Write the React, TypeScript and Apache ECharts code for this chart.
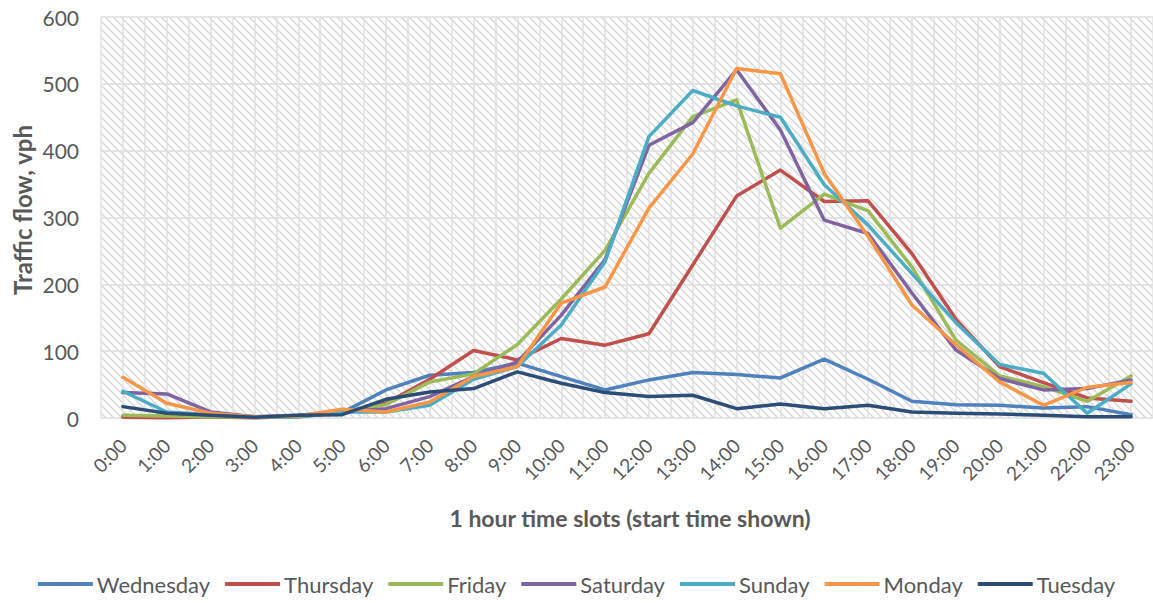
import React, { useEffect, useRef } from "react";
import * as echarts from "echarts";

const hours = [
  "0:00", "1:00", "2:00", "3:00", "4:00", "5:00", "6:00", "7:00", "8:00", "9:00", "10:00", "11:00",
  "12:00", "13:00", "14:00", "15:00", "16:00", "17:00", "18:00", "19:00", "20:00", "21:00", "22:00", "23:00",
];
const seriesNames = ["Wednesday", "Thursday", "Friday", "Saturday", "Sunday", "Monday", "Tuesday"];
const seriesColors = ["#4F81BD", "#C0504D", "#9BBB59", "#8064A2", "#4BACC6", "#F79646", "#2C4D75"];

const wednesday = [3, 2, 2, 1, 2, 8, 42, 64, 68, 82, 62, 42, 57, 68, 65, 60, 88, 58, 25, 20, 19, 15, 17, 5];
const thursday = [1, 0, 2, 0, 3, 8, 22, 58, 101, 87, 119, 109, 126, 229, 332, 371, 324, 325, 246, 148, 77, 53, 30, 25];
const friday = [4, 3, 2, 1, 2, 9, 20, 54, 66, 110, 178, 251, 366, 451, 476, 284, 335, 310, 226, 117, 63, 47, 25, 63];
const saturday = [38, 36, 9, 2, 4, 9, 14, 32, 62, 84, 154, 237, 408, 442, 521, 431, 296, 276, 187, 102, 59, 42, 44, 57];
const sunday = [40, 9, 5, 2, 2, 9, 9, 19, 58, 77, 139, 234, 421, 490, 467, 450, 349, 289, 216, 143, 80, 67, 7, 51];
const monday = [61, 22, 7, 2, 3, 13, 9, 24, 62, 77, 172, 196, 314, 395, 523, 515, 366, 272, 169, 110, 54, 19, 46, 53];
const tuesday = [17, 7, 4, 1, 4, 5, 28, 39, 44, 69, 52, 38, 32, 34, 14, 21, 14, 19, 9, 7, 6, 4, 2, 2];

const seriesValues = [wednesday, thursday, friday, saturday, sunday, monday, tuesday];

const yTicks = { min: 0, max: 600, interval: 100 };

const FONT = "Lato, 'Open Sans', sans-serif";
const TEXT_COLOR = "#595959";

export default function App() {
  const ref = useRef<HTMLDivElement>(null);

  useEffect(() => {
    if (!ref.current) return;
    const chart = echarts.init(ref.current, null, { renderer: "svg" });

    const hatchSvg =
      "<svg xmlns='http://www.w3.org/2000/svg' width='8' height='8'>" +
      "<path d='M-1,-1 L9,9 M7,-1 L9,1 M-1,7 L1,9' stroke='#d9d9d9' stroke-width='1.5'/></svg>";
    const hatchUrl = "data:image/svg+xml;charset=utf-8," + encodeURIComponent(hatchSvg);

    const option: any = {
      animation: false,
      textStyle: { fontFamily: FONT },
      grid: {
        left: 101,
        top: 17,
        right: -8,
        bottom: 185,
        show: true,
        borderWidth: 0,
        backgroundColor: {
          image: hatchUrl,
          repeat: "repeat",
          imageWidth: 8,
          imageHeight: 8,
        },
      },
      legend: {
        data: seriesNames,
        top: 568,
        left: "center",
        icon: "rect",
        itemWidth: 55,
        itemHeight: 4,
        itemGap: 15,
        textStyle: { fontSize: 22, color: TEXT_COLOR, fontFamily: FONT, padding: [0, 0, 0, -1] },
      },
      xAxis: [
        {
          type: "category",
          data: hours,
          boundaryGap: true,
          axisLine: { show: false },
          axisTick: { show: false },
          splitLine: { show: false },
          axisLabel: {
            rotate: 45,
            fontSize: 19,
            color: TEXT_COLOR,
            margin: 24,
            interval: 0,
            fontFamily: FONT,
          },
        },
        {
          type: "value",
          min: -0.5,
          max: 23.5,
          interval: 0.5,
          position: "top",
          axisLine: { show: false },
          axisTick: { show: false },
          axisLabel: { show: false },
          splitLine: { show: true, lineStyle: { color: "#e2e2e2", width: 1.5 } },
        },
      ],
      yAxis: {
        type: "value",
        min: yTicks.min,
        max: yTicks.max,
        interval: yTicks.interval,
        axisLine: { show: false },
        axisTick: { show: false },
        axisLabel: { fontSize: 21, color: TEXT_COLOR, margin: 22, fontFamily: FONT },
        splitLine: { show: true, lineStyle: { color: "#dedede", width: 1.5 } },
      },
      graphic: [
        {
          type: "text",
          x: 22,
          y: 210,
          rotation: Math.PI / 2,
          style: {
            text: "Traffic flow, vph",
            fontSize: 24,
            fontWeight: "bold",
            fill: TEXT_COLOR,
            fontFamily: FONT,
            align: "center",
            verticalAlign: "middle",
          },
        },
        {
          type: "text",
          x: 630,
          y: 518,
          style: {
            text: "1 hour time slots (start time shown)",
            fontSize: 23,
            fontWeight: "bold",
            fill: TEXT_COLOR,
            fontFamily: FONT,
            align: "center",
            verticalAlign: "middle",
          },
        },
      ],
      series: seriesNames.map((name, i) => ({
        name,
        type: "line",
        xAxisIndex: 0,
        yAxisIndex: 0,
        data: seriesValues[i],
        symbol: "none",
        color: seriesColors[i],
        lineStyle: { width: 3.5, color: seriesColors[i], join: "round", cap: "round" },
        z: 2 + i,
      })),
    };

    chart.setOption(option);
    return () => chart.dispose();
  }, []);

  return (
    <div
      ref={ref}
      style={{ position: "absolute", left: 0, top: 0, width: 1153, height: 603, overflow: "hidden" }}
    />
  );
}
